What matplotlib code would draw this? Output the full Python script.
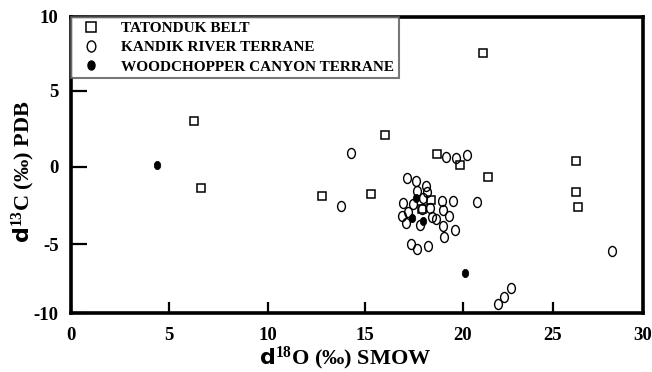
import numpy as np
import matplotlib
matplotlib.use("Agg")
import matplotlib.pyplot as plt
from matplotlib.path import Path
from matplotlib.transforms import Affine2D
from matplotlib.lines import Line2D

# ---------------- data ----------------
tatonduk_x = [6.25, 6.6, 12.8, 15.3, 16.0, 18.65, 19.85, 21.4, 21.1, 26.25, 26.25, 26.4, 18.35, 17.9]
tatonduk_y = [3.0, -1.4, -1.9, -1.75, 2.1, 0.85, 0.1, -0.65, 7.55, 0.4, -1.6, -2.6, -2.15, -2.7]

kandik_x = [14.3, 13.75, 19.15, 19.65, 20.2, 20.75, 21.95, 22.3, 22.65, 28.25,
            17.15, 17.6, 18.1, 17.65, 18.15, 17.95, 16.95, 17.45, 17.2, 17.9,
            18.3, 16.9, 17.1, 17.8, 18.4, 18.6, 18.95, 19.5, 19.0, 19.3,
            19.0, 19.6, 19.05, 17.35, 17.65, 18.2]
kandik_y = [0.9, -2.55, 0.65, 0.6, 0.8, -2.3, -9.35, -8.8, -8.2, -5.45,
            -0.7, -0.95, -1.25, -1.55, -1.6, -2.0, -2.35, -2.4, -2.9, -2.7,
            -2.65, -3.15, -3.65, -3.75, -3.25, -3.4, -2.2, -2.2, -2.8, -3.2,
            -3.8, -4.1, -4.55, -5.0, -5.35, -5.1]

woodchopper_x = [4.4, 17.6, 17.4, 17.95, 20.1]
woodchopper_y = [0.1, -2.0, -3.3, -3.5, -7.1]

series_names = ["TATONDUK BELT", "KANDIK RIVER TERRANE", "WOODCHOPPER CANYON TERRANE"]
x_ticks = [0, 5, 10, 15, 20, 25, 30]
y_ticks = [-10, -5, 0, 5, 10]

# axis knots of the (slightly irregular) original drawing
x_knot_pix = [71, 169, 268, 365, 463, 553, 643]
y_knot_pix = [58.7, 127.7, 205.3, 281.3, 355.3]


def make_scale(vals, pix):
    vals = np.asarray(vals, float)
    pix = np.asarray(pix, float)
    s0 = (pix[1] - pix[0]) / (vals[1] - vals[0])
    s1 = (pix[-1] - pix[-2]) / (vals[-1] - vals[-2])

    def fwd(v):
        v = np.asarray(v, float)
        out = np.interp(v, vals, pix)
        out = np.where(v < vals[0], pix[0] + (v - vals[0]) * s0, out)
        out = np.where(v > vals[-1], pix[-1] + (v - vals[-1]) * s1, out)
        return out

    def inv(p):
        p = np.asarray(p, float)
        out = np.interp(p, pix, vals)
        out = np.where(p < pix[0], vals[0] + (p - pix[0]) / s0, out)
        out = np.where(p > pix[-1], vals[-1] + (p - pix[-1]) / s1, out)
        return out

    return fwd, inv


plt.rcParams['font.family'] = ['Liberation Serif', 'DejaVu Serif']
plt.rcParams['font.weight'] = 'bold'
plt.rcParams['mathtext.fontset'] = 'custom'
plt.rcParams['mathtext.sf'] = 'DejaVu Sans:bold'
plt.rcParams['mathtext.rm'] = 'Liberation Serif:bold'
plt.rcParams['mathtext.it'] = 'Liberation Serif:italic:bold'
plt.rcParams['mathtext.bf'] = 'Liberation Serif:bold'

fig = plt.figure(figsize=(6.52, 3.72), dpi=100)
ax = fig.add_axes([71 / 652, 58.7 / 372, 572 / 652, 296.6 / 372])

ax.set_xscale('function', functions=make_scale(x_ticks, x_knot_pix))
ax.set_yscale('function', functions=make_scale(y_ticks, y_knot_pix))
ax.set_xlim(0, 30)
ax.set_ylim(-10, 10)

# elliptical (taller than wide) circle marker
ell = Path.unit_circle().transformed(Affine2D().scale(0.78, 1.0))

ax.plot(tatonduk_x, tatonduk_y, linestyle='none', marker='s', ms=6.2,
        mfc='white', mec='black', mew=1.1, zorder=3)
ax.plot(kandik_x, kandik_y, linestyle='none', marker=ell, ms=7.2,
        mfc='none', mec='black', mew=1.0, zorder=4)
ax.plot(woodchopper_x, woodchopper_y, linestyle='none', marker=ell, ms=6.0,
        mfc='black', mec='black', mew=0.5, zorder=5)

ax.set_xticks(x_ticks)
ax.set_yticks(y_ticks)
ax.set_xticklabels([str(t) for t in x_ticks])
ax.set_yticklabels([str(t) for t in y_ticks])
ax.minorticks_off()
ax.tick_params(axis='x', direction='in', length=8, width=1.6, pad=10, labelsize=13.5)
ax.tick_params(axis='y', direction='in', length=11.5, width=1.6, pad=9, labelsize=13.5)
ax.tick_params(top=False, right=False)
for sp in ax.spines.values():
    sp.set_linewidth(2.6)

handles = [
    Line2D([], [], linestyle='none', marker='s', ms=6.5, mfc='white', mec='black', mew=1.1),
    Line2D([], [], linestyle='none', marker=ell, ms=8.0, mfc='none', mec='black', mew=1.0),
    Line2D([], [], linestyle='none', marker=ell, ms=6.5, mfc='black', mec='black'),
]
leg = ax.legend(handles, series_names, loc='upper left', bbox_to_anchor=(0, 1),
                borderaxespad=0, frameon=True, fancybox=False,
                prop={'family': 'Liberation Serif', 'weight': 'bold', 'size': 11},
                handlelength=2.0, handletextpad=1.0, borderpad=0.3,
                labelspacing=0.37)
leg.get_frame().set_edgecolor('#555555')
leg.get_frame().set_linewidth(1.5)

fig.text(345 / 652, 1 - 358 / 372, r'$\mathsf{d}^{18}$O ($\mathit{‰}$) SMOW',
         ha='center', va='center', fontsize=16, fontweight='bold')
fig.text(23 / 652, 1 - 172 / 372, r'$\mathsf{d}^{13}$C ($\mathit{‰}$) PDB',
         ha='center', va='center', rotation=90, fontsize=16, fontweight='bold')

fig.savefig('out.png', dpi=100)
